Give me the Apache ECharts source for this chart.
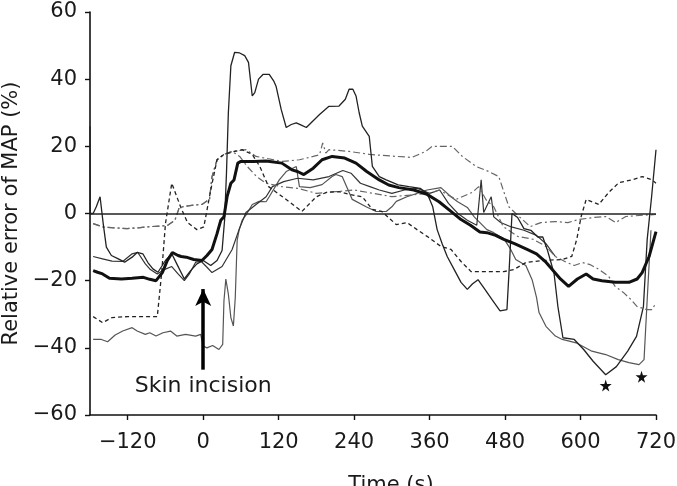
<!DOCTYPE html>
<html>
<head>
<meta charset="utf-8">
<script src="https://cdn.jsdelivr.net/npm/echarts@6/dist/echarts.min.js"></script>
<style>
  html, body { margin: 0; padding: 0; background: #fff; }
  #chart { width: 677px; height: 486px; }
</style>
</head>
<body>
<div id="chart"></div>
<script>
// time (s) ticks shown on the x axis
const timeTicks = [-120, 0, 120, 240, 360, 480, 600, 720];

// [time (s), relative error of MAP (%)]
const meanError = [[-175,-17],[-168,-17.5],[-160,-18],[-149,-19.3],[-130,-19.5],[-113,-19.3],[-95,-19],[-85,-19.6],[-75,-20],[-65,-17.6],[-57,-14],[-49,-11.6],[-40,-12.5],[-35,-12.8],[-27,-13],[-15,-13.7],[-2,-14],[6,-12.5],[14,-10.7],[22,-6],[28,-2],[33,-1],[38,5],[44,9],[49,10],[55,15],[60,15.5],[80,15.5],[100,15.6],[125,15],[141,13],[150,12.5],[160,11.6],[175,13.5],[189,16],[205,17],[225,16.5],[243,15],[260,12.5],[280,10],[295,8.5],[311,7.7],[335,7],[356,5.7],[375,3.5],[395,0.5],[410,-1.8],[425,-3.5],[440,-5.5],[451,-5.7],[465,-6.5],[478,-7.7],[495,-9],[515,-10.7],[530,-12],[545,-14.5],[555,-16.7],[568,-19.5],[581,-21.7],[595,-19.5],[609,-18],[620,-19.5],[634,-20],[655,-20.5],[677,-20.5],[690,-19.5],[698,-17.6],[709,-12.8],[720,-5.4]];

const patientA = [[-180,26],[-179.5,0],[-175,0],[-170,2],[-164,5],[-159,-3],[-154,-10],[-146,-12.5],[-135,-13.5],[-125,-14.5],[-113,-13],[-105,-11.6],[-96,-12],[-88,-14.6],[-80,-16.5],[-72,-17.5],[-60,-14],[-50,-12],[-42,-15],[-30,-19.5],[-20,-17],[-10,-15],[0,-14],[12,-15.5],[22,-14],[30,-11],[34,-2],[37,12],[40,30],[44,44],[50,48],[58,47.8],[66,47],[72,45],[78,35],[82,36],[88,40],[95,41.4],[105,41.4],[112,39.5],[116,37.8],[124,31],[132,25.6],[140,26.5],[148,27],[156,26.3],[164,25.6],[185,29.5],[200,31.9],[216,32],[226,34],[232,37],[238,37],[243,35],[248,30],[253,26],[264,23],[269,14],[280,11],[291,10],[310,8.5],[327,8],[345,7.5],[356,6],[365,2],[372,-4.8],[380,-9],[388,-12.8],[400,-17],[410,-20.5],[420,-22.6],[428,-21],[437,-19.7],[448,-22.6],[459,-25.6],[472,-29],[483,-28.6],[487,-15],[491,0],[500,-1.2],[510,-4.5],[521,-5],[532,-7],[540,-7],[547,-10.7],[553,-14.6],[558,-18],[564,-27.7],[572,-37],[590,-37.5],[605,-40.5],[620,-44],[640,-48],[657,-45.6],[675,-41],[689,-36.6],[700,-27.7],[706,-7.7],[713,5],[720,19]];

const patientB = [[-175,-37.5],[-162,-37.5],[-152,-38.2],[-140,-36.2],[-128,-35],[-113,-34],[-105,-35],[-92,-36],[-85,-35.5],[-75,-36.5],[-64,-35.5],[-52,-35],[-42,-36.5],[-28,-36],[-12,-36.5],[-4,-36],[0,-39.5],[6,-40],[15,-39.3],[25,-40.5],[31,-39],[33,-26],[36,-19.5],[40,-24],[44,-31],[48,-33.5],[51,-25],[54,-8],[57,-5],[62,-2],[68,-0.5],[78,2.7],[89,3.6],[100,3.5],[105,5],[121,10],[132,12.5],[148,14],[153,8],[170,7.7],[189,8.6],[205,11],[211,11.6],[221,11],[237,4.2],[259,2],[275,0.6],[291,0.6],[300,2],[307,3.6],[324,5],[356,7],[378,7.7],[394,5],[404,3.6],[420,1.8],[431,-1],[451,-4.8],[462,-5.7],[478,-7.5],[489,-10.7],[497,-13.7],[513,-15.5],[523,-19.7],[530,-25],[534,-29.5],[545,-33.6],[560,-36.5],[571,-37.5],[593,-38.5],[618,-41],[640,-42],[660,-43.5],[677,-44.4],[693,-45],[701,-43.5],[706,-25.6],[712,-5]];

const patientC = [[-175,-12.8],[-160,-13.5],[-145,-14.2],[-128,-14.3],[-113,-12],[-104,-11.6],[-92,-15],[-84,-16.7],[-73,-18],[-62,-16.7],[-50,-15.8],[-40,-18],[-30,-20],[-22,-18],[-12,-14.5],[-3,-14.3],[6,-16],[14,-17.6],[30,-15.8],[46,-10.7],[57,-4.8],[68,0.3],[84,2.7],[100,5],[110,8],[128,9.5],[150,10.5],[175,10],[200,11],[222,12.8],[235,12],[250,9],[265,8],[280,7],[300,6],[320,7],[340,7.5],[360,6],[376,7],[390,3],[405,0],[420,-2],[435,-3.5],[442,10],[446,0.3],[458,5],[462,-1],[473,-2.7],[490,-4],[510,-5],[530,-6.5],[545,-9],[560,-12.8]];

const patientD = [[-175,-3],[-160,-4],[-146,-4.2],[-121,-4.5],[-100,-4.2],[-83,-3.9],[-57,-3.6],[-45,-2],[-38,1.8],[-30,2.1],[-15,2.5],[-2,2.7],[10,4.2],[14,11],[22,16],[33,17.6],[46,18.5],[68,19],[84,17],[126,15.5],[153,16],[175,17],[185,17.5],[190,21],[195,18],[200,19],[232,18.5],[264,17.6],[307,17],[332,16.7],[354,18.5],[364,20],[396,20],[412,17],[434,14],[454,12.5],[470,11],[486,2],[497,0],[520,-3.9],[537,-2.7],[560,-2.4],[580,-2.7],[597,-1.8],[620,-1.2],[640,-0.9],[656,-2.7],[672,-0.9],[700,-0.5],[720,-0.3]];

const patientE = [[-175,-30.7],[-160,-32.5],[-145,-31],[-120,-30.7],[-73,-30.7],[-66,-17.6],[-60,-3],[-50,9],[-36,2],[-25,-2.7],[-10,-4.8],[1,-4],[12,7],[22,16],[33,17.6],[50,18.5],[62,19],[78,17.6],[90,14],[104,8],[126,5],[157,0.6],[180,5],[196,6.3],[216,6.5],[232,5.7],[253,5],[269,1.2],[284,0.6],[307,-3.3],[324,-2.7],[340,-4.8],[356,-6.8],[378,-9.8],[394,-10.7],[410,-14.3],[426,-17.3],[478,-17.3],[494,-16.7],[513,-14.6],[539,-14],[571,-13.7],[586,-12.8],[594,-7.7],[601,-0.9],[609,4.2],[629,2.7],[645,6.3],[661,9.2],[682,10],[698,11],[714,10],[720,9]];

// follows patientD until it drops away after the incision
const patientF = [[-175,-3],[-160,-4],[-146,-4.2],[-121,-4.5],[-100,-4.2],[-83,-3.9],[-57,-3.6],[-45,-2],[-38,1.8],[-30,2.1],[-15,2.5],[-2,2.7],[10,4.2],[14,11],[22,16],[33,17.6],[46,18.5],[58,17],[70,14],[85,11],[100,9],[125,8],[150,7.5],[180,6],[210,6.5],[240,7],[270,6],[300,5],[330,5.5],[360,6],[375,7],[402,4.2],[428,6.3],[438,8],[450,4],[462,2],[477,-3.9],[500,-6.8],[525,-7.7],[545,-9.8],[560,-12.8],[575,-14.3],[590,-15.5],[603,-14.6],[615,-15.2],[630,-16.7],[645,-18.8],[655,-21.7],[668,-23.5],[680,-25.6],[690,-27.7],[705,-28.6],[714,-28.6],[720,-26.5]];

const incisionArrow = [[0,-46.5],[0,-22.5]];
const incisionLabel = [0,-51.3];
const stars = [[640,-51.2],[697,-48.6]];

const font = 'DejaVu Sans';
const starPath = 'path://M50,0 L61,35 L98,35 L68,57 L79,91 L50,70 L21,91 L32,57 L2,35 L39,35 Z';

function line(data, color, width, type) {
  return {
    type: 'line', data: data, symbol: 'none', z: 3,
    lineStyle: { color: color, width: width, type: type || 'solid' }
  };
}

var myChart = echarts.init(document.getElementById('chart'));
const minusFmt = function (v) { return v < 0 ? '\u2212' + Math.abs(v) : String(v); };

const meanSeries = line(meanError, '#111', 3);
meanSeries.z = 5;
meanSeries.markLine = {
  silent: true, symbol: 'none', animation: false,
  label: { show: false },
  data: [
    { yAxis: 0, lineStyle: { color: '#222', width: 1.6, type: 'solid' } },
    [
      { coord: incisionArrow[0], symbol: 'none', lineStyle: { color: '#000', width: 3.5, type: 'solid' } },
      { coord: incisionArrow[1], symbol: 'arrow', symbolSize: [12, 17] }
    ]
  ]
};
meanSeries.markPoint = {
  silent: true, animation: false,
  data: [
    { coord: stars[0], symbol: starPath, symbolSize: 12, itemStyle: { color: '#111' }, label: { show: false } },
    { coord: stars[1], symbol: starPath, symbolSize: 12, itemStyle: { color: '#111' }, label: { show: false } },
    { coord: incisionLabel, symbol: 'rect', symbolSize: 1, itemStyle: { color: 'rgba(0,0,0,0)' },
      label: { show: true, position: 'inside', formatter: 'Skin incision', color: '#1a1a1a', fontFamily: font, fontSize: 22 } }
  ]
};

const option = {
  animation: false,
  backgroundColor: '#fff',
  grid: { left: 90, right: 21, top: 12, bottom: 71, outerBoundsMode: 'none', containLabel: false },
  xAxis: {
    type: 'value', min: -180, max: 720,
    name: 'Time (s)', nameLocation: 'middle', nameGap: 60,
    nameTextStyle: { fontFamily: font, fontSize: 21, color: '#1a1a1a', padding: [0, 0, 0, 36] },
    axisLine: { onZero: false, lineStyle: { color: '#111', width: 1.6 } },
    axisTick: { customValues: timeTicks, length: 5, lineStyle: { color: '#111', width: 1.4 } },
    axisLabel: { customValues: timeTicks, formatter: minusFmt, fontFamily: font, fontSize: 21, color: '#1a1a1a', margin: 17 },
    splitLine: { show: false }
  },
  yAxis: {
    type: 'value', min: -60, max: 60, interval: 20,
    name: 'Relative error of MAP (%)', nameLocation: 'middle', nameGap: 64,
    nameTextStyle: { fontFamily: font, fontSize: 21, color: '#1a1a1a' },
    axisLine: { show: true, onZero: false, lineStyle: { color: '#111', width: 1.6 } },
    axisTick: { show: true, length: 5, lineStyle: { color: '#111', width: 1.4 } },
    axisLabel: { formatter: minusFmt, fontFamily: font, fontSize: 21, color: '#1a1a1a', margin: 13 },
    splitLine: { show: false }
  },
  series: [
    line(patientB, '#555', 1.2),
    line(patientC, '#333', 1.2),
    line(patientF, '#666', 1.2, [7, 3, 2, 3]),
    line(patientD, '#666', 1.2, [7, 3, 2, 3]),
    line(patientE, '#222', 1.3, [4, 3]),
    line(patientA, '#222', 1.3),
    meanSeries
  ]
};

myChart.setOption(option);
</script>
</body>
</html>
